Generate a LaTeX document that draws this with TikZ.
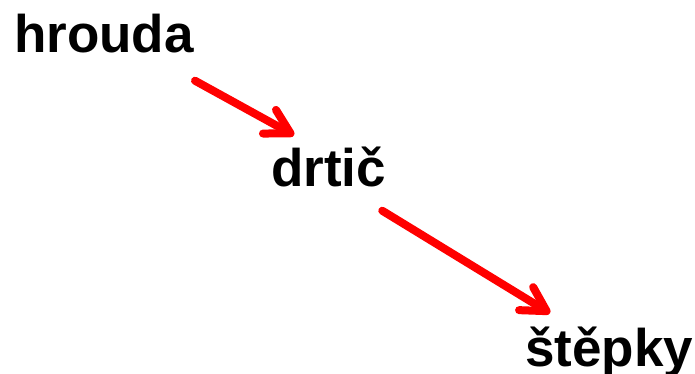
\documentclass[tikz,border=0pt]{standalone}
\usepackage{fontspec}
\setmainfont{Liberation Sans}
\usetikzlibrary{arrows.meta}
\begin{document}
\begin{tikzpicture}[x=1pt, y=1pt,
    word/.style ={anchor=base west, inner sep = 0pt, font=\fontsize{53}{60}\selectfont\bfseries},
    pipe/.style ={red, line width=8pt, line cap=round, -{Straight Barb[length=24pt, width=27pt, round]}}]
   \useasboundingbox (0,0) rectangle (695,-374);
   \node[word] (hrouda) at (14,-53)  {hrouda};
   \node[word] (drtic)  at (271,-186) {drtič};
   \node[word] (stepky) at (525,-366) {štěpky};

   \draw[pipe] ([xshift=1pt, yshift=-27pt]hrouda.south east) -- ([xshift=23pt, yshift=11pt]drtic.north west);
   \draw[pipe] ([xshift=-4pt, yshift=-24pt]drtic.south east) -- ([xshift=25pt, yshift=13pt]stepky.north west);
 \end{tikzpicture}
\end{document}
